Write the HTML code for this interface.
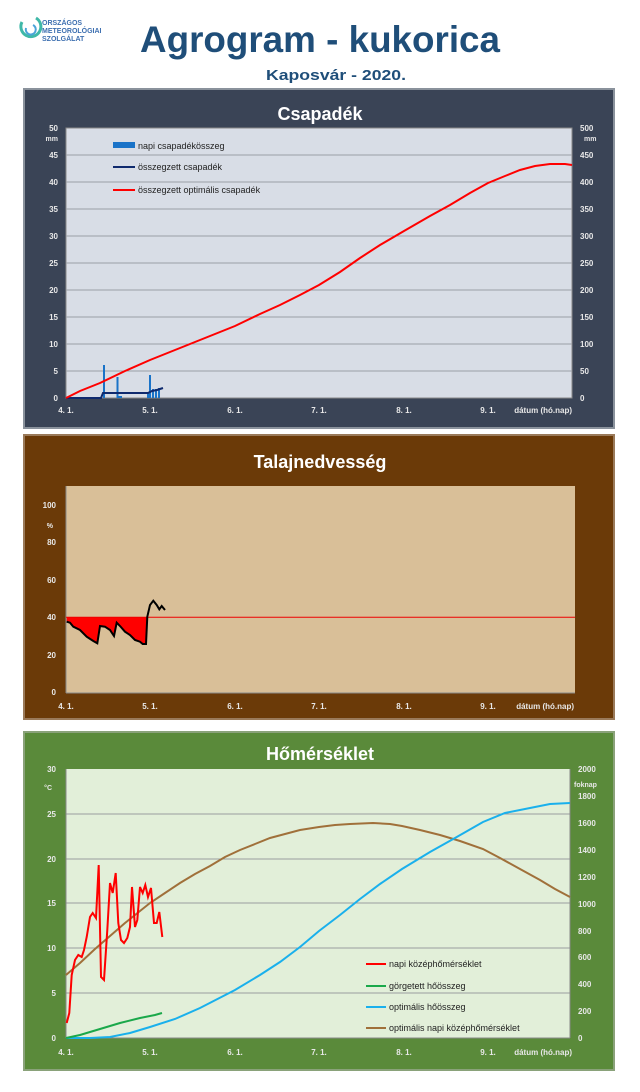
<!DOCTYPE html>
<html><head><meta charset="utf-8"><style>
html,body{margin:0;padding:0;background:#fff;}
svg{display:block;font-family:"Liberation Sans",sans-serif;}
</style></head><body>
<svg width="640" height="1092" viewBox="0 0 640 1092" xmlns="http://www.w3.org/2000/svg">
<g>
<path d="M22 22 a10 10 0 1 0 14 -4" fill="none" stroke="#3fb8a8" stroke-width="3"/>
<path d="M26 28 a5 5 0 1 0 7 -3" fill="none" stroke="#4aa3d8" stroke-width="2"/>
<text x="42" y="25" font-size="7" fill="#3d6fb0" font-weight="bold">ORSZÁGOS</text>
<text x="42" y="33" font-size="7" fill="#3d6fb0" font-weight="bold">METEOROLÓGIAI</text>
<text x="42" y="41" font-size="7" fill="#3d6fb0" font-weight="bold">SZOLGÁLAT</text>
</g>
<text x="140" y="52" font-size="37" font-weight="bold" fill="#1f4e79" textLength="360" lengthAdjust="spacingAndGlyphs">Agrogram - kukorica</text>
<text x="266" y="80" font-size="15" font-weight="bold" fill="#1f4e79" textLength="140" lengthAdjust="spacingAndGlyphs">Kaposvár - 2020.</text>

<rect x="24" y="89" width="590" height="339" fill="#3a4456" stroke="#8a929c" stroke-width="2"/>
<text x="320" y="120" font-size="18" font-weight="bold" fill="#fff" text-anchor="middle">Csapadék</text>
<rect x="66" y="128" width="506" height="270" fill="#d8dde6" stroke="#888" stroke-width="1"/>
<g stroke="#9a9ea6" stroke-width="1">
<line x1="66" x2="572" y1="155" y2="155"/><line x1="66" x2="572" y1="182" y2="182"/>
<line x1="66" x2="572" y1="209" y2="209"/><line x1="66" x2="572" y1="236" y2="236"/>
<line x1="66" x2="572" y1="263" y2="263"/><line x1="66" x2="572" y1="290" y2="290"/>
<line x1="66" x2="572" y1="317" y2="317"/><line x1="66" x2="572" y1="344" y2="344"/>
<line x1="66" x2="572" y1="371" y2="371"/>
</g>
<g font-size="8" font-weight="bold" fill="#e8e8e8" text-anchor="end">
<text x="58" y="131">50</text><text x="58" y="141" font-size="7">mm</text><text x="58" y="158">45</text><text x="58" y="185">40</text>
<text x="58" y="212">35</text><text x="58" y="239">30</text><text x="58" y="266">25</text><text x="58" y="293">20</text>
<text x="58" y="320">15</text><text x="58" y="347">10</text><text x="58" y="374">5</text><text x="58" y="401">0</text>
</g>
<g font-size="8" font-weight="bold" fill="#e8e8e8" text-anchor="start">
<text x="580" y="131">500</text><text x="584" y="141" font-size="7">mm</text><text x="580" y="158">450</text><text x="580" y="185">400</text>
<text x="580" y="212">350</text><text x="580" y="239">300</text><text x="580" y="266">250</text><text x="580" y="293">200</text>
<text x="580" y="320">150</text><text x="580" y="347">100</text><text x="580" y="374">50</text><text x="580" y="401">0</text>
</g>
<g font-size="8" font-weight="bold" fill="#e8e8e8" text-anchor="middle">
<text x="66" y="413">4. 1.</text><text x="150" y="413">5. 1.</text><text x="235" y="413">6. 1.</text>
<text x="319" y="413">7. 1.</text><text x="404" y="413">8. 1.</text><text x="488" y="413">9. 1.</text>
</g>
<text x="572" y="413" font-size="8" fill="#e8e8e8" text-anchor="end" font-weight="bold">dátum (hó.nap)</text>
<rect x="113" y="142" width="22" height="6" fill="#1a73c8"/>
<text x="138" y="149" font-size="9" fill="#222">napi csapadékösszeg</text>
<line x1="113" x2="135" y1="167" y2="167" stroke="#0f2a6e" stroke-width="2"/>
<text x="138" y="170" font-size="9" fill="#222">összegzett csapadék</text>
<line x1="113" x2="135" y1="190" y2="190" stroke="#f00" stroke-width="2"/>
<text x="138" y="193" font-size="9" fill="#222">összegzett optimális  csapadék</text>
<g stroke="#1a73c8" stroke-width="2">
<line x1="104" x2="104" y1="398" y2="365"/><line x1="117.5" x2="117.5" y1="398" y2="377"/>
<line x1="150" x2="150" y1="398" y2="375"/><line x1="148" x2="148" y1="398" y2="392"/>
<line x1="153" x2="153" y1="398" y2="389"/><line x1="156" x2="156" y1="398" y2="389"/><line x1="159" x2="159" y1="398" y2="388"/>
<line x1="118" x2="122" y1="397" y2="397"/>
</g>
<polyline points="66,398 101,398 103,393 148,393 152,391 157,390 163,388" fill="none" stroke="#0f2a6e" stroke-width="2"/>
<polyline points="66,398 80,391 100,383 125,371 150,360 175,350 200,340 235,326 260,314 280,305 300,295 319,285 340,272 360,258 380,245 404,231 430,216 450,205 470,193 488,183 505,176 520,170 535,166 550,164 565,164 572,165" fill="none" stroke="#f00" stroke-width="2"/>

<rect x="24" y="435" width="590" height="284" fill="#6b3a08" stroke="#9a7a5a" stroke-width="2"/>
<text x="320" y="468" font-size="18" font-weight="bold" fill="#fff" text-anchor="middle">Talajnedvesség</text>
<rect x="66" y="486" width="509" height="207" fill="#d9bf98"/>
<line x1="66" x2="575" y1="693" y2="693" stroke="#888"/>
<line x1="66" x2="66" y1="486" y2="693" stroke="#888"/>
<g font-size="8" font-weight="bold" fill="#e8e8e8" text-anchor="end">
<text x="56" y="508">100</text><text x="53" y="528" font-size="7">%</text><text x="56" y="545">80</text>
<text x="56" y="583">60</text><text x="56" y="620">40</text><text x="56" y="658">20</text><text x="56" y="695">0</text>
</g>
<g font-size="8" font-weight="bold" fill="#e8e8e8" text-anchor="middle">
<text x="66" y="709">4. 1.</text><text x="150" y="709">5. 1.</text><text x="235" y="709">6. 1.</text>
<text x="319" y="709">7. 1.</text><text x="404" y="709">8. 1.</text><text x="488" y="709">9. 1.</text>
</g>
<text x="574" y="709" font-size="8" fill="#e8e8e8" text-anchor="end" font-weight="bold">dátum (hó.nap)</text>
<polygon points="66.7,617.3 66.7,621.7 70,622.7 73.3,626.7 80,630 86.7,636.7 93.3,641 97.3,643.3 100,626 105,626.7 110,630 114,636 116.7,622.7 120,626 125,631.7 130,635 135,640 140,641.7 142.7,644 146,644 147.3,617.3" fill="#f00"/>
<line x1="66" x2="575" y1="617.3" y2="617.3" stroke="#e00" stroke-width="1"/>
<polyline points="66.7,621.7 70,622.7 73.3,626.7 80,630 86.7,636.7 93.3,641 97.3,643.3 100,626 105,626.7 110,630 114,636 116.7,622.7 120,626 125,631.7 130,635 135,640 140,641.7 142.7,644 146,644 147.3,616.7 150,605 153.3,600.7 156.7,605 159.3,609.3 161.7,606 165,610" fill="none" stroke="#000" stroke-width="2"/>

<rect x="24" y="732" width="590" height="338" fill="#5a8a3a" stroke="#8aa27a" stroke-width="2"/>
<text x="320" y="760" font-size="18" font-weight="bold" fill="#fff" text-anchor="middle">Hőmérséklet</text>
<rect x="66" y="769" width="504" height="269" fill="#e2efd9"/>
<g stroke="#9a9ea0" stroke-width="1">
<line x1="66" x2="570" y1="814" y2="814"/><line x1="66" x2="570" y1="859" y2="859"/>
<line x1="66" x2="570" y1="903" y2="903"/><line x1="66" x2="570" y1="948" y2="948"/>
<line x1="66" x2="570" y1="993" y2="993"/>
</g>
<line x1="66" x2="570" y1="1038" y2="1038" stroke="#888"/>
<line x1="66" x2="66" y1="769" y2="1038" stroke="#888"/>
<line x1="570" x2="570" y1="769" y2="1038" stroke="#888"/>
<g font-size="8" font-weight="bold" fill="#e8e8e8" text-anchor="end">
<text x="56" y="772">30</text><text x="52" y="790" font-size="7">°C</text><text x="56" y="817">25</text><text x="56" y="862">20</text>
<text x="56" y="906">15</text><text x="56" y="951">10</text><text x="56" y="996">5</text><text x="56" y="1041">0</text>
</g>
<g font-size="8" font-weight="bold" fill="#e8e8e8" text-anchor="start">
<text x="578" y="772">2000</text><text x="574" y="787" font-size="7">foknap</text><text x="578" y="799">1800</text><text x="578" y="826">1600</text>
<text x="578" y="853">1400</text><text x="578" y="880">1200</text><text x="578" y="907">1000</text><text x="578" y="934">800</text>
<text x="578" y="960">600</text><text x="578" y="987">400</text><text x="578" y="1014">200</text><text x="578" y="1041">0</text>
</g>
<g font-size="8" font-weight="bold" fill="#e8e8e8" text-anchor="middle">
<text x="66" y="1055">4. 1.</text><text x="150" y="1055">5. 1.</text><text x="235" y="1055">6. 1.</text>
<text x="319" y="1055">7. 1.</text><text x="404" y="1055">8. 1.</text><text x="488" y="1055">9. 1.</text>
</g>
<text x="572" y="1055" font-size="8" fill="#e8e8e8" text-anchor="end" font-weight="bold">dátum (hó.nap)</text>
<polyline points="66,975 80,963 95,949 110,936 125,923 140,911 150,903 165,893 180,883 195,874 210,866 225,857 240,850 255,844 270,838 285,834 300,830 319,827 335,825 350,824 373,823 390,824 402,826 420,830 440,835 460,841 483,849 500,858 520,869 540,880 555,889 570,897" fill="none" stroke="#a0703a" stroke-width="2"/>
<polyline points="66,1038 90,1038 110,1037 130,1033 150,1027 175,1019 200,1008 235,990 260,975 280,962 300,947 319,931 340,915 360,899 380,884 402,869 430,852 455,838 483,822 505,813 530,808 550,804 570,803" fill="none" stroke="#1ab0ec" stroke-width="2"/>
<polyline points="66,1038 80,1035 100,1029 120,1023 140,1018 155,1015 162,1013" fill="none" stroke="#1aa84a" stroke-width="2"/>
<polyline points="66.7,1023 69.3,1013 71.7,975 75,960 78.3,955 81.7,957 84,950 86.7,937 90,917 92.7,913 96,918 98.7,865 101,977 104,980 107.3,930 110,883 112.7,893 115.7,873 118.3,923 121,940 124,943 127.3,938 130,927 132,887 135,927 137.3,920 140,887 142.7,893 145.3,885 148,897 151,888 154,923 156.7,923 159.3,912 162.3,937" fill="none" stroke="#f00" stroke-width="2"/>
<line x1="366" x2="386" y1="964" y2="964" stroke="#f00" stroke-width="2"/>
<text x="389" y="967" font-size="9" fill="#222">napi középhőmérséklet</text>
<line x1="366" x2="386" y1="986" y2="986" stroke="#1aa84a" stroke-width="2"/>
<text x="389" y="989" font-size="9" fill="#222">görgetett hőösszeg</text>
<line x1="366" x2="386" y1="1007" y2="1007" stroke="#1ab0ec" stroke-width="2"/>
<text x="389" y="1010" font-size="9" fill="#222">optimális hőösszeg</text>
<line x1="366" x2="386" y1="1028" y2="1028" stroke="#a0703a" stroke-width="2"/>
<text x="389" y="1031" font-size="9" fill="#222">optimális napi középhőmérséklet</text>
</svg>
</body></html>
